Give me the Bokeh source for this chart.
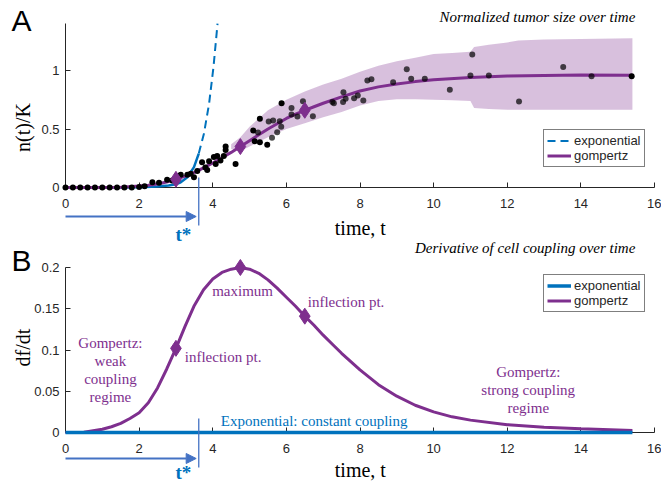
import math
from bokeh.plotting import figure
from bokeh.models import (Range1d, FixedTicker, Label, Arrow, NormalHead, Legend, LegendItem,
                          LinearAxis)
from bokeh.embed import file_html
from bokeh.resources import INLINE

# ---------------- data ----------------
x_ticks = [0, 2, 4, 6, 8, 10, 12, 14, 16]
x_tick_labels = ["0", "2", "4", "6", "8", "10", "12", "14", "16"]
a_y_ticks = [0, 0.5, 1]
a_y_tick_labels = ["0", "0.5", "1"]
b_y_ticks = [0, 0.05, 0.1, 0.15, 0.2]
b_y_tick_labels = ["0", "0.05", "0.1", "0.15", "0.2"]

t_star = 3.62

# Panel A: gompertz fit of normalized tumor size
gomp_t = [0, 0.5, 1.0, 1.5, 2.0, 2.25, 2.5, 2.75, 3.0, 3.25, 3.5, 3.75, 4.0, 4.25, 4.5, 4.75,
          5.0, 5.25, 5.5, 5.75, 6.0, 6.25, 6.5, 6.75, 7.0, 7.5, 8.0, 8.5, 9.0, 9.5, 10.0,
          11.0, 12.0, 13.0, 14.0, 15.4]
gomp_n = [0, 0, 0.0005, 0.003, 0.012, 0.019, 0.03, 0.047, 0.07, 0.097, 0.13, 0.168, 0.21, 0.255,
          0.30, 0.35, 0.40, 0.45, 0.50, 0.545, 0.59, 0.627, 0.66, 0.69, 0.72, 0.775, 0.825, 0.86,
          0.885, 0.905, 0.92, 0.94, 0.952, 0.958, 0.962, 0.96]
# exponential fit (solid up to t*) and its projection (dashed)
exp_fit_t = [0, 1.5, 2.0, 2.5, 2.8, 3.0, 3.13, 3.31, 3.49, 3.62]
exp_fit_n = [0, 0.001, 0.003, 0.009, 0.018, 0.028, 0.045, 0.088, 0.174, 0.29]
exp_proj_t = [3.62, 3.76, 3.90, 4.02, 4.13]
exp_proj_n = [0.29, 0.46, 0.715, 1.03, 1.40]
# key points (inflection, maximum, inflection)
key_t = [3.0, 4.75, 6.5]
key_n = [0.07, 0.35, 0.66]
# prediction band
band_t = [4.5, 4.75, 5.0, 5.5, 6.0, 6.5, 7.0, 7.5, 8.0, 8.5, 9.0, 9.5, 10.0, 10.5, 11.0,
          11.1, 11.5, 12.0, 12.3, 13.0, 14.0, 15.4]
band_hi = [0.37, 0.43, 0.52, 0.66, 0.75, 0.82, 0.88, 0.93, 0.99, 1.04, 1.08, 1.11, 1.14, 1.15, 1.16,
           1.20, 1.22, 1.24, 1.256, 1.265, 1.27, 1.276]
band_lo = [0.33, 0.31, 0.35, 0.43, 0.50, 0.55, 0.60, 0.645, 0.70, 0.74, 0.755, 0.755, 0.75, 0.745, 0.74,
           0.68, 0.67, 0.665, 0.665, 0.665, 0.665, 0.664]
# measured data (training: black, test: grey)
train_t = [0, 0.2, 0.4, 0.6, 0.8, 1.0, 1.2, 1.4, 1.6, 1.8, 2.0, 2.15, 2.36, 2.54, 2.76, 2.9,
           3.13, 3.31, 3.4, 3.49, 3.58, 3.71, 3.8, 3.85, 3.9, 4.03, 4.08, 4.12, 4.21, 4.3,
           4.35, 4.35, 4.62, 5.10, 5.14, 5.28, 5.28, 5.48, 5.87, 15.38]
train_n = [0, 0, 0, 0, 0, 0, 0, 0, 0, 0, 0.005, 0.01, 0.045, 0.04, 0.066, 0.06,
           0.11, 0.11, 0.117, 0.088, 0.14, 0.216, 0.17, 0.15, 0.225, 0.26, 0.2, 0.27, 0.23, 0.27,
           0.35, 0.32, 0.2, 0.487, 0.396, 0.587, 0.387, 0.365, 0.72, 0.95]
test_t = [5.23, 5.52, 5.61, 5.64, 5.75, 5.82, 5.86, 6.14, 6.14, 6.30, 6.45, 6.72, 7.25, 7.29,
          7.54, 7.55, 7.61, 7.84, 7.94, 8.09, 8.20, 8.31, 8.90, 9.27, 9.39, 9.76, 10.44, 11.0,
          11.05, 11.5, 12.32, 13.52, 14.29]
test_n = [0.47, 0.564, 0.425, 0.573, 0.473, 0.567, 0.52, 0.68, 0.624, 0.607, 0.738, 0.61, 0.73, 0.72,
          0.73, 0.815, 0.758, 0.763, 0.786, 0.744, 0.915, 0.926, 0.90, 1.01, 0.93, 0.93, 0.835, 0.957,
          1.137, 0.957, 0.735, 1.03, 0.95]

# Panel B: derivative of cell coupling
deriv_t = [0, 0.5, 1.0, 1.25, 1.5, 1.75, 2.0, 2.25, 2.5, 2.75, 3.0, 3.25, 3.5, 3.75, 4.0, 4.25,
           4.5, 4.75, 5.0, 5.25, 5.5, 5.75, 6.0, 6.25, 6.5, 6.75, 7.0, 7.25, 7.5, 7.75, 8.0,
           8.5, 9.0, 9.5, 10.0, 10.5, 11.0, 12.0, 13.0, 14.0, 15.4]
deriv_v = [0, 0.0003, 0.004, 0.007, 0.011, 0.017, 0.024, 0.036, 0.054, 0.077, 0.102, 0.129, 0.154,
           0.173, 0.186, 0.194, 0.198, 0.200, 0.198, 0.193, 0.185, 0.175, 0.164, 0.153, 0.141,
           0.130, 0.118, 0.107, 0.096, 0.086, 0.076, 0.058, 0.044, 0.033, 0.025, 0.019, 0.015,
           0.0095, 0.0065, 0.0045, 0.0025]
key_v = [0.102, 0.200, 0.141]
expc_t = [0, 15.4]
expc_v = [0, 0]

# ---------------- style / geometry ----------------
PURPLE = "#7E2F8E"
BLUE = "#0072BD"
ARROWC = "#4472C4"
AX = "#262626"
SERIF = "Liberation Serif"
SANS = "Liberation Sans"
W, H = 661, 485
PX_X = 36.8125            # px per time unit
X0 = 65                   # px of t = 0
A_PX, A_Y0 = 117.0, 187   # panel A: px per unit, px of n = 0
B_PX, B_Y0 = 825.0, 432   # panel B: px per unit, px of df/dt = 0

p = figure(width=W, height=H,
           x_range=Range1d(-X0 / PX_X, (W - X0) / PX_X),
           y_range=Range1d(-(H - A_Y0) / A_PX, A_Y0 / A_PX),
           output_backend="svg", toolbar_location=None,
           min_border_left=0, min_border_right=0, min_border_top=0, min_border_bottom=0)
p.extra_y_ranges = {"b": Range1d(-(H - B_Y0) / B_PX, B_Y0 / B_PX)}
p.outline_line_color = None
p.grid.visible = False

xb = LinearAxis(y_range_name="b")
yb = LinearAxis(y_range_name="b")
p.add_layout(xb, "below")
p.add_layout(yb, "left")


def style_axis(ax):
    ax.axis_line_color = AX
    ax.axis_line_width = 1
    ax.major_tick_line_color = AX
    ax.major_tick_in = 5
    ax.major_tick_out = 0
    ax.minor_tick_line_color = None
    ax.major_label_text_font = SANS
    ax.major_label_text_font_size = "13px"
    ax.major_label_text_color = AX
    ax.fixed_location = 0
    ax.level = "underlay"


xa = p.below[0]
ya = p.left[0]
for ax in (xa, ya, xb, yb):
    style_axis(ax)
for ax in (xa, xb):
    ax.ticker = FixedTicker(ticks=x_ticks)
    ax.major_label_overrides = dict(zip(x_ticks, x_tick_labels))
    ax.bounds = (0, 16)
    ax.major_label_standoff = 11
ya.ticker = FixedTicker(ticks=a_y_ticks)
ya.major_label_overrides = dict(zip(a_y_ticks, a_y_tick_labels))
ya.bounds = (0, 1.4)
yb.ticker = FixedTicker(ticks=b_y_ticks)
yb.major_label_overrides = dict(zip(b_y_ticks, b_y_tick_labels))
yb.bounds = (0, 0.2)
for ax in (ya, yb):
    ax.major_label_standoff = 6


def lab(x, y, text, size, color="black", font=SERIF, style="normal", align="center",
        angle=0.0, rng="default"):
    p.add_layout(Label(x=x, y=y, text=text, text_font=font, text_font_size=f"{size}px",
                       text_color=color, text_font_style=style, text_align=align,
                       text_baseline="middle", angle=angle, y_range_name=rng))


def tstar_marks(y_top, y_bot, y_arrow, y_lab, rng):
    p.add_layout(Arrow(end=None, x_start=t_star, y_start=y_top, x_end=t_star, y_end=y_bot,
                       line_color=ARROWC, line_width=1.3, y_range_name=rng))
    p.add_layout(Arrow(end=NormalHead(size=10, fill_color=ARROWC, line_color=ARROWC, line_width=1),
                       x_start=0, y_start=y_arrow, x_end=t_star - 0.07, y_end=y_arrow,
                       line_color=ARROWC, line_width=2, y_range_name=rng))
    lab(t_star - 0.42, y_lab, "t*", 19, color=BLUE, style="bold", rng=rng)


def legend(items, loc):
    leg = Legend(items=items, location=loc, margin=0, padding=3, spacing=0,
                 border_line_color="black", border_line_width=1, background_fill_alpha=1,
                 glyph_width=24, glyph_height=15, label_height=15, label_standoff=3,
                 label_text_font=SANS, label_text_font_size="13px", label_text_color=AX)
    p.add_layout(leg)


# ---------------- panel A ----------------
p.varea(x=band_t, y1=band_lo, y2=band_hi, fill_color=PURPLE, fill_alpha=0.3)
r_dash = p.line(exp_proj_t, exp_proj_n, line_color=BLUE, line_width=2, line_dash="8 5")
p.line(exp_fit_t, exp_fit_n, line_color=BLUE, line_width=2.5)
r_gA = p.line(gomp_t, gomp_n, line_color=PURPLE, line_width=3)
p.scatter(train_t, train_n, size=6, fill_color="black", line_color=None)
p.scatter(test_t, test_n, size=6, fill_color="black", fill_alpha=0.7, line_color=None)
p.scatter(key_t, key_n, marker="diamond", size=16, fill_color=PURPLE, line_color=PURPLE)

legend([LegendItem(label="exponential", renderers=[r_dash]),
        LegendItem(label="gompertz", renderers=[r_gA])], (543, H - 167))

lab(-1.195, 1.427, "A", 30, font=SANS)
lab(15.48, 1.456, "Normalized tumor size over time", 15, style="italic", align="right")
lab(-1.168, 0.513, "n(t)/K", 20, angle=math.pi / 2)
lab(8.01, -0.35, "time, t", 20)
tstar_marks(0.085, -0.325, -0.248, -0.40, "default")

# ---------------- panel B ----------------
r_gB = p.line(deriv_t, deriv_v, line_color=PURPLE, line_width=3, y_range_name="b")
r_eB = p.line(expc_t, expc_v, line_color=BLUE, line_width=3.5, y_range_name="b")
p.scatter(key_t, key_v, marker="diamond", size=16, fill_color=PURPLE, line_color=PURPLE,
          y_range_name="b")

legend([LegendItem(label="exponential", renderers=[r_eB]),
        LegendItem(label="gompertz", renderers=[r_gB])], (543, H - 312))

lab(-1.195, 0.2085, "B", 30, font=SANS, rng="b")
lab(15.48, 0.2234, "Derivative of cell coupling over time", 15, style="italic", align="right", rng="b")
lab(-1.168, 0.103, "df/dt", 20, angle=math.pi / 2, rng="b")
lab(8.01, -0.046, "time, t", 20, rng="b")
tstar_marks(0.017, -0.0424, -0.0315, -0.0482, "b")

lab(4.81, 0.172, "maximum", 15, color=PURPLE, rng="b")
lab(3.24, 0.0913, "inflection pt.", 15, color=PURPLE, align="left", rng="b")
lab(6.58, 0.158, "inflection pt.", 15, color=PURPLE, align="left", rng="b")
for i, line in enumerate(["Gompertz:", "weak", "coupling", "regime"]):
    lab(1.22, 0.108 - i * 0.0218, line, 15, color=PURPLE, rng="b")
for i, line in enumerate(["Gompertz:", "strong coupling", "regime"]):
    lab(12.57, 0.0731 - i * 0.0218, line, 15, color=PURPLE, rng="b")
lab(4.22, 0.0137, "Exponential: constant coupling", 15, color=BLUE, align="left", rng="b")

open("out.html", "w").write(file_html(p, INLINE))
